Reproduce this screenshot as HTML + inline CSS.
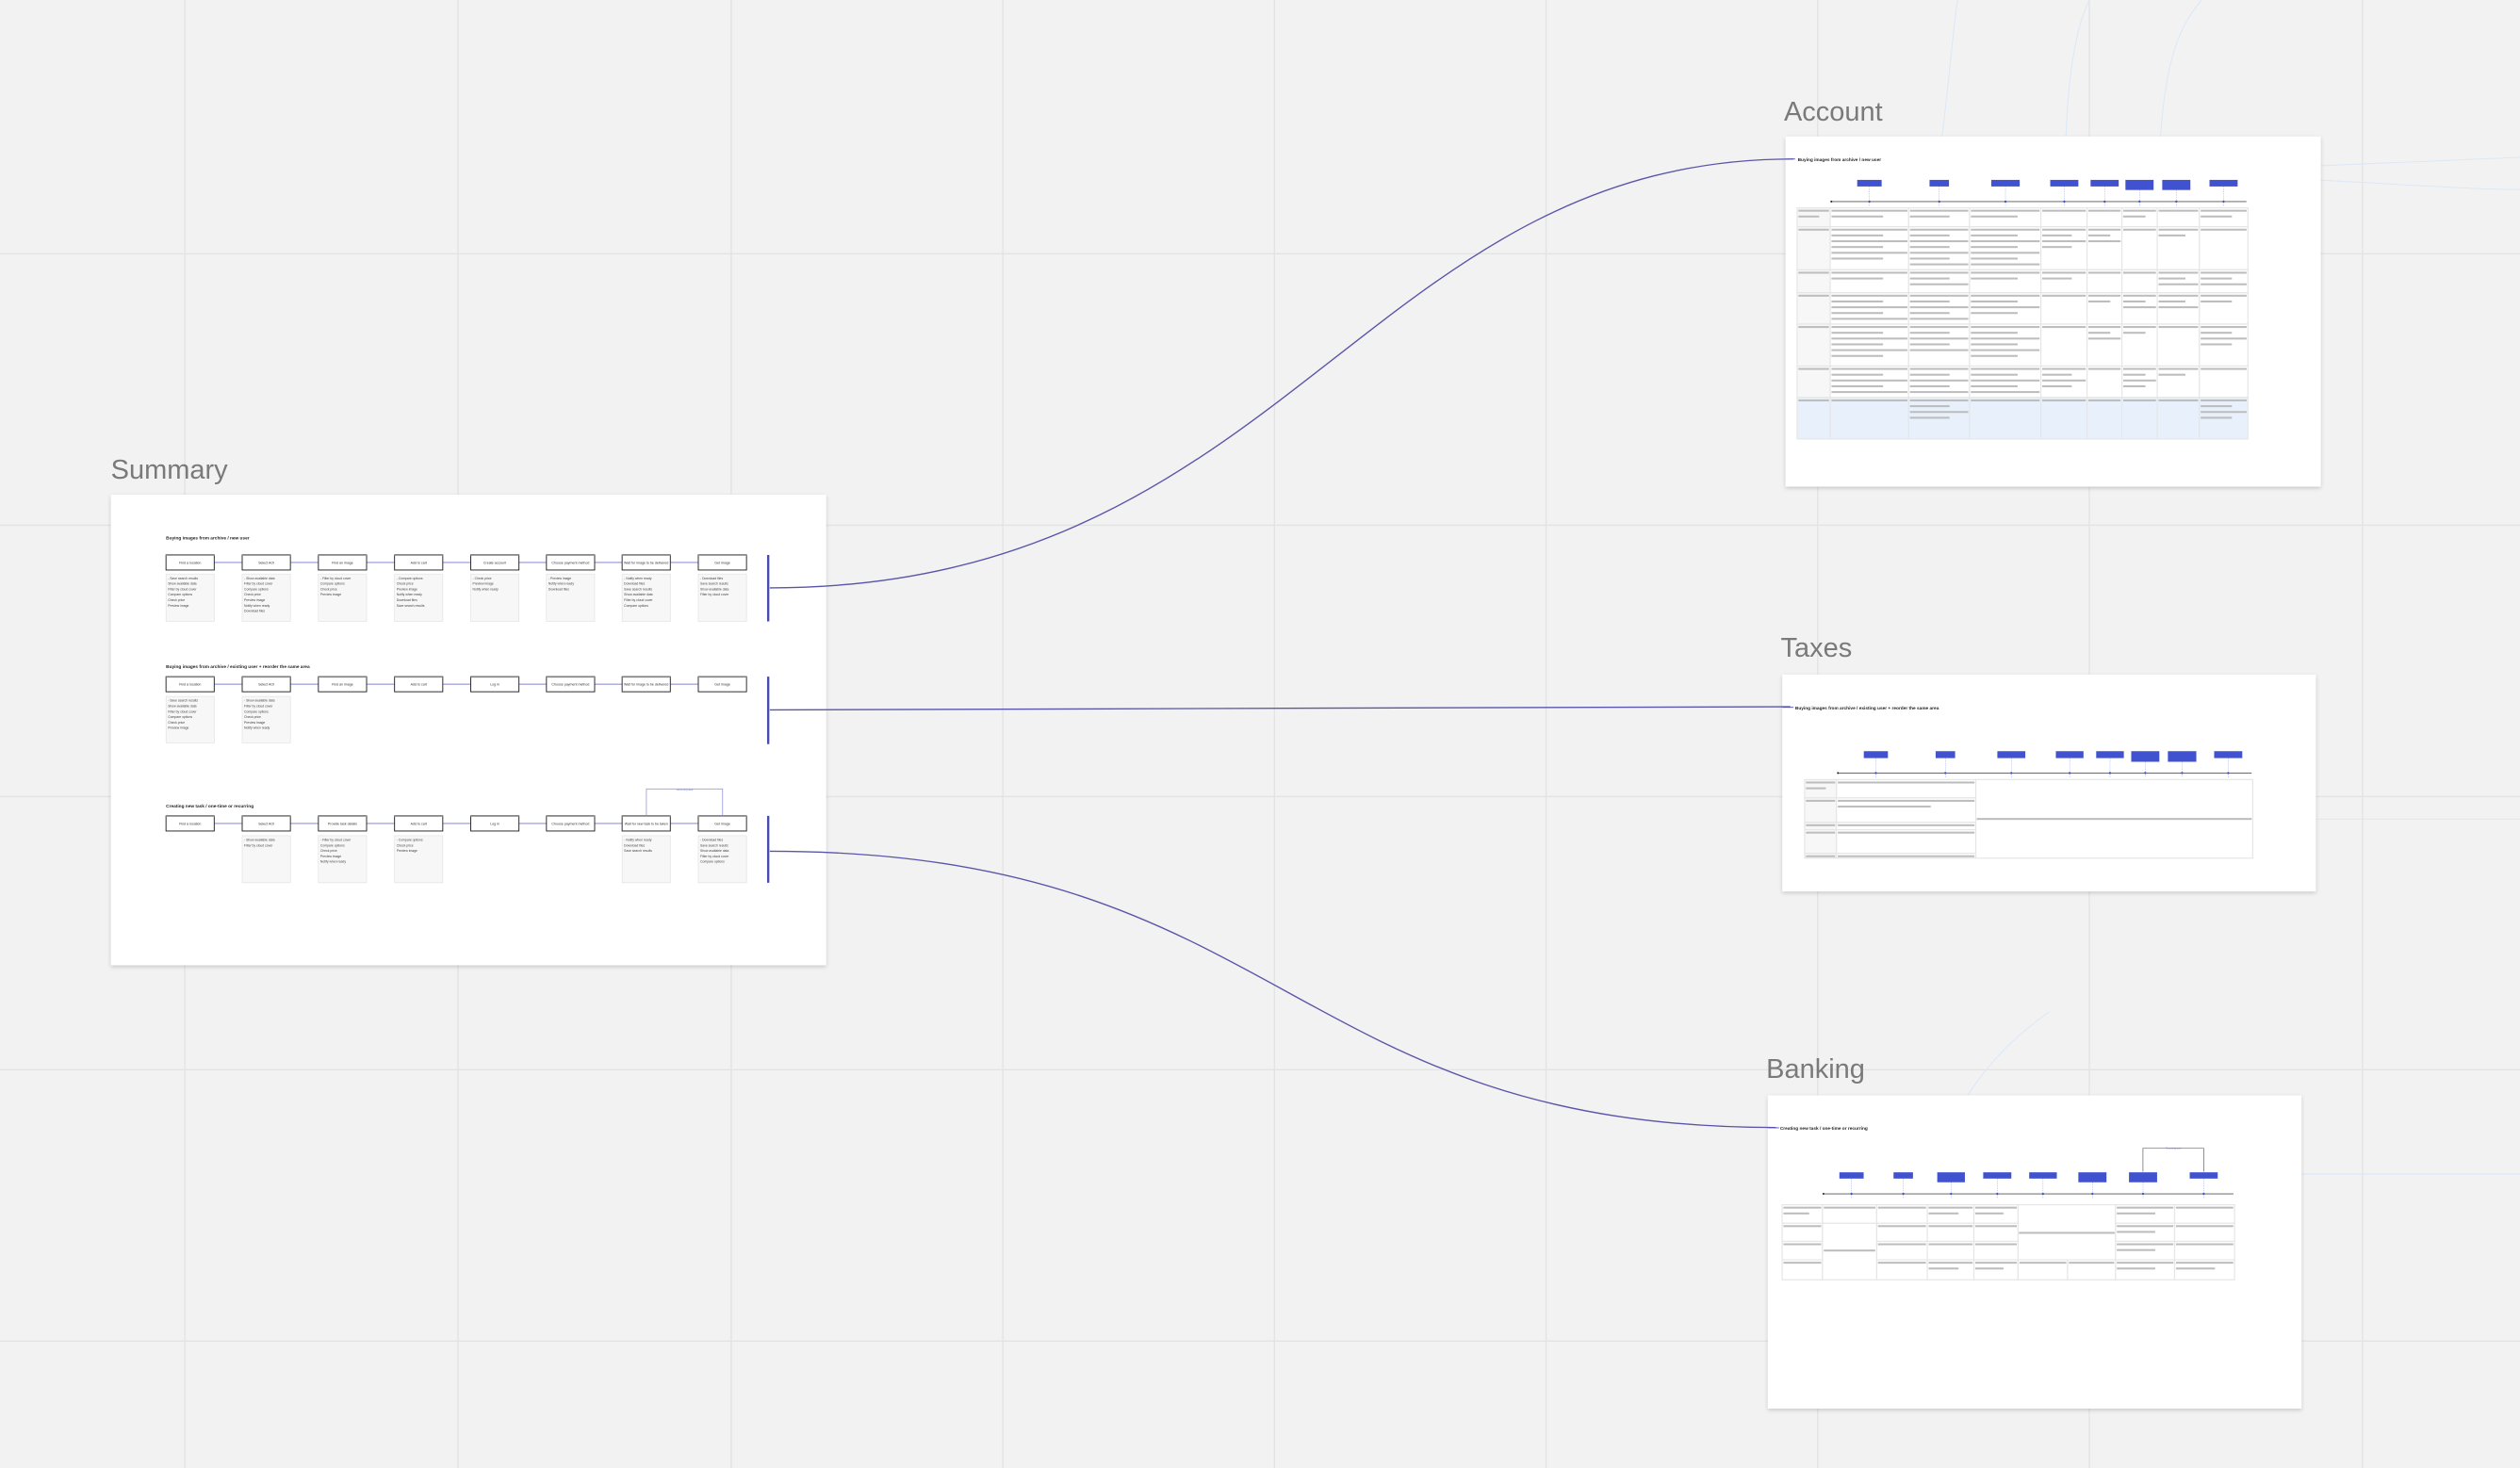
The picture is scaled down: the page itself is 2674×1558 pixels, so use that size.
<!DOCTYPE html>
<html><head><meta charset="utf-8">
<style>
html,body{margin:0;padding:0;background:#f2f2f2;}
svg{display:block;}
text{font-family:"Liberation Sans",sans-serif;}
</style></head>
<body>
<svg id="s" width="2674" height="1558" viewBox="0 0 1568 914" preserveAspectRatio="none" xmlns="http://www.w3.org/2000/svg">
<defs>
<filter id="sh" x="-5%" y="-5%" width="110%" height="115%"><feDropShadow dx="0" dy="1" stdDeviation="1.2" flood-color="#000" flood-opacity="0.18"/></filter>
</defs>
<rect width="1568" height="914" fill="#f2f2f2"/>
<g id="grid" stroke="#e3e3e3" stroke-width="0.8"></g>
<g fill="none" stroke="#dbe8f7" stroke-width="0.6">
<path d="M1207,95 C1212,60 1215,20 1218,0"/>
<path d="M1285,110 C1285,60 1290,20 1300,0"/>
<path d="M1343,110 C1345,50 1352,20 1370,0"/>
<path d="M1111,130 C1250,110 1400,105 1568,98"/>
<path d="M1440,112 C1500,115 1540,118 1568,118"/>
<path d="M1207,735 C1210,690 1240,655 1275,630"/>
<path d="M1380,731 L1568,731"/>
<path d="M1402,510 L1568,510"/>
</g>
<text x="69" y="298" font-size="17" fill="#7a7a7a">Summary</text>
<text x="1110" y="75" font-size="17" fill="#7a7a7a">Account</text>
<text x="1108" y="409" font-size="17" fill="#7a7a7a">Taxes</text>
<text x="1099" y="671" font-size="17" fill="#7a7a7a">Banking</text>
<rect x="69" y="308" width="445" height="293" fill="#fff" filter="url(#sh)"/>
<rect x="1111" y="85" width="333" height="218" fill="#fff" filter="url(#sh)"/>
<rect x="1109" y="420" width="332" height="135" fill="#fff" filter="url(#sh)"/>
<rect x="1100" y="682" width="332" height="195" fill="#fff" filter="url(#sh)"/>
<g id="c"></g>
<g fill="none" stroke="#5a55a8" stroke-width="0.8">
<path d="M479,366 C800,366 850,99 1116,99"/>
<path d="M479,442 L1114,440"/>
<path d="M479,530 C800,530 800,702 1105,702"/>
</g>
</svg>
<script>
var g=document.getElementById('grid'),o='';
[115,285,455,624,793,962,1131,1300,1470].forEach(function(x){o+='<line x1="'+x+'" y1="0" x2="'+x+'" y2="914"/>';});
[158,327,496,666,835].forEach(function(y){o+='<line x1="0" y1="'+y+'" x2="1568" y2="'+y+'"/>';});
g.innerHTML=o;
var S='';
function R(x,y,w,h,f,st,sw){S+='<rect x="'+x+'" y="'+y+'" width="'+w+'" height="'+h+'" fill="'+f+'"'+(st?' stroke="'+st+'" stroke-width="'+(sw||0.5)+'"':'')+'/>';}
function L(x1,y1,x2,y2,st,sw,da){S+='<line x1="'+x1+'" y1="'+y1+'" x2="'+x2+'" y2="'+y2+'" stroke="'+st+'" stroke-width="'+sw+'"'+(da?' stroke-dasharray="'+da+'"':'')+'/>';}
function T(x,y,t,fs,f,w,a){S+='<text x="'+x+'" y="'+y+'" font-size="'+fs+'" fill="'+f+'"'+(w?' font-weight="bold"':'')+(a?' text-anchor="'+a+'"':'')+'>'+t+'</text>';}
var xs=[103.3,150.7,198.1,245.5,292.9,340,387.1,434.5],bw=30;
var rows=[
{t:'Buying images from archive / new user',ty:335.8,by:345.5,ny:357.4,nh:29.5,notes:[0,1,2,3,4,5,6,7],bar:[345.5,386.9],
 labels:['Find a location','Select AOI','Find an image','Add to cart','Create account','Choose payment method','Wait for image to be delivered','Get image'],
 nl:[6,7,4,6,3,3,6,4]},
{t:'Buying images from archive / existing user + reorder the same area',ty:415.8,by:421.3,ny:433.6,nh:29,notes:[0,1],bar:[421.3,463.3],
 labels:['Find a location','Select AOI','Find an image','Add to cart','Log in','Choose payment method','Wait for image to be delivered','Get image'],
 nl:[6,6]},
{t:'Creating new task / one-time or recurring',ty:502.8,by:508,ny:520.3,nh:29.3,notes:[1,2,3,6,7],bar:[508,549.6],
 labels:['Find a location','Select AOI','Provide task details','Add to cart','Log in','Choose payment method','Wait for new task to be taken','Get image'],
 nl:[0,2,5,3,0,0,3,5]}];
var words=['Save search results','Show available data','Filter by cloud cover','Compare options','Check price','Preview image','Notify when ready','Download files'];
rows.forEach(function(r,ri){
 T(103.3,r.ty,r.t,2.8,'#222',1);
 for(var i=0;i<8;i++){
  var x=xs[i];
  if(i<7)L(x+bw,r.by+4.7,xs[i+1],r.by+4.7,'#a6a6e0',0.8);
  R(x,r.by,bw,9.4,'#fff','#222',0.55);
  L(x,r.by+0.4,x+bw,r.by+0.4,'#bbb',0.5);
  T(x+bw/2,r.by+5.6,r.labels[i],2.1,'#333',0,'middle');
 }
 r.notes.forEach(function(i,k){
  var x=xs[i];R(x,r.ny,bw,r.nh,'#f7f7f7','#e2e2e2',0.4);
  var n=r.nl[ri==2?i:k]||4;
  for(var j=0;j<n;j++)T(x+1.2,r.ny+3.3+j*3.4,(j==0?'- ':'')+words[(i+j)%8],2,'#444');
 });
 L(478,r.bar[0],478,r.bar[1],'#4a4ab0',1.4);
});
S+='<path d="M402.2,508 L402.2,491.2 L449.6,491.2 L449.6,508" fill="none" stroke="#9c9ce0" stroke-width="0.5"/>';
T(426,492.2,'Recurring task',1.6,'#8888cc',0,'middle');
function TL(x1,x2,y,rects,ry,rh,th){
 L(x1,y,x2,y,'#555',0.5);
 S+='<circle cx="'+x1+'" cy="'+y+'" r="0.6" fill="#222"/>';
 rects.forEach(function(r){var cx=(r[0]+r[1])/2;var h=r[2]?th:rh;
  L(cx,ry+h,cx,y+3,'#9da6e8',0.3,'0.8,0.6');
  R(r[0],ry,r[1]-r[0],h,'#4052d0');
  S+='<circle cx="'+cx+'" cy="'+y+'" r="0.7" fill="#4052d0"/>';});
}
var seed=7;function rnd(){seed=(seed*9301+49297)%233280;return seed/233280;}
function cell(x,y,w,h,f,n){
 R(x,y,w,h,f||'#fff','#e6e6e6',0.7);
 if(n===undefined)n=1+Math.floor(rnd()*4);
 for(var j=0;j<n;j++){var yy=y+1.2+j*3.6;if(yy+1.2>y+h)break;R(x+0.8,yy,(j%2?0.68:1)*(w-1.6),1.2,'#bdbdbd');}
}
T(1118.6,100.2,'Buying images from archive / new user',2.8,'#222',1);
L(1111,99,1117,99,'#4a4ab0',0.5);
TL(1139.5,1397.8,125.5,[[1155.6,1170.8],[1200.6,1212.7],[1239,1256.7],[1275.7,1293.2],[1300.8,1318.3],[1322.5,1340,1],[1345.4,1362.9,1],[1374.8,1392.3]],112,4.1,6.3);
var ac=[1118.2,1138.8,1187.6,1225.5,1269.9,1298.6,1320.3,1342.3,1368.5,1398.7];
var ar=[129.4,141.2,168,182.3,201.8,227.9,247.5,273.3];
for(var ri=0;ri<7;ri++)for(var ci=0;ci<9;ci++){
 var f=ri==6?'#e8f1fb':(ci==0?'#f7f7f7':'#fff');
 var mx=Math.max(1,Math.floor((ar[ri+1]-ar[ri]-1)/3.6));
 var n;
 if(ci==0)n=ri==0?2:1;
 else if(ci<=3)n=Math.max(2,mx-Math.floor(rnd()*2));
 else n=1+Math.floor(rnd()*Math.min(mx,4));
 if(ri==6)n=(ci==2||ci==8)?4:1;
 cell(ac[ci],ar[ri],ac[ci+1]-ac[ci],ar[ri+1]-ar[ri],f,n);
}
T(1117,441.7,'Buying images from archive / existing user + reorder the same area',2.8,'#222',1);
L(1109,440.4,1116,440.4,'#4a4ab0',0.5);
TL(1143.6,1401,481.3,[[1159.7,1174.7],[1204.4,1216.5],[1242.8,1260.2],[1279.2,1296.4],[1304.3,1321.5],[1326.1,1343.6,1],[1348.9,1366.6,1],[1377.7,1395.2]],467.7,4.3,6.6);
var tr=[485.4,496.8,512,516.6,531.3,534.3];
for(var i=0;i<5;i++){cell(1122.9,tr[i],19.8,tr[i+1]-tr[i],'#f7f7f7',i==0?2:1);cell(1142.7,tr[i],86.7,tr[i+1]-tr[i],'#fff',i==1?2:1);}
cell(1229.4,485.4,172.3,48.9,'#fff',0);
R(1230,509.3,171,1.2,'#bdbdbd');
T(1107.6,703.4,'Creating new task / one-time or recurring',2.8,'#222',1);
L(1100,702.2,1107,702.2,'#4a4ab0',0.5);
TL(1134.6,1389.7,743.3,[[1144.5,1159.6],[1178.2,1190.3],[1205.4,1222.6,1],[1234,1251.5],[1262.6,1279.8],[1293.2,1310.7,1],[1324.7,1342.2,1],[1362.5,1379.9]],729.9,3.9,6.2);
S+='<path d="M1333.4,729.5 L1333.4,714.9 L1371.2,714.9 L1371.2,729.5" fill="none" stroke="#444" stroke-width="0.35"/>';
T(1352.3,715.5,'Recurring task',1.5,'#7777cc',0,'middle');
var bc=[1108.9,1134,1167.7,1199.2,1228.2,1255.7,1286.5,1316.3,1353.1,1390.4];
var br=[750.1,761.6,772.9,784.4,796.8];
for(var ri=0;ri<4;ri++)for(var ci=0;ci<9;ci++){
 if(ci==1&&ri>0)continue;
 if((ci==5||ci==6)&&ri<3)continue;
 var n=ci==0?(ri==0?2:1):1+Math.floor(rnd()*2);
 cell(bc[ci],br[ri],bc[ci+1]-bc[ci],br[ri+1]-br[ri],'#fff',n);
}
cell(1134,761.6,33.7,35.2,'#fff',0);R(1134.8,778,32,1.2,'#bdbdbd');
cell(1255.7,750.1,60.6,34.3,'#fff',0);R(1256.2,767,59.6,1.2,'#bdbdbd');
cell(1255.7,784.4,30.8,12.4,'#fff',1);cell(1286.5,784.4,29.8,12.4,'#fff',1);
document.getElementById('c').innerHTML=S;
</script>
</body></html>
